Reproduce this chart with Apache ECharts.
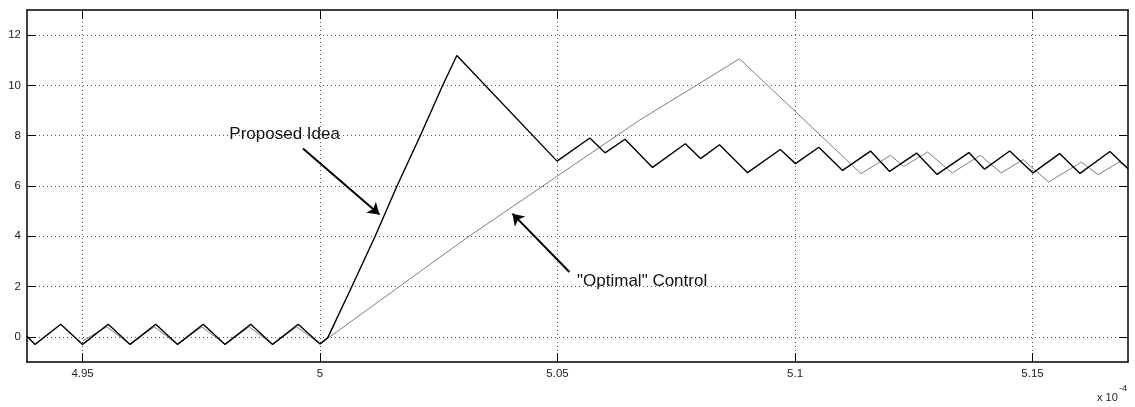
<!DOCTYPE html>
<html>
<head>
<meta charset="utf-8">
<script src="https://cdn.jsdelivr.net/npm/echarts@6/dist/echarts.min.js"></script>
<style>
  html, body { margin: 0; padding: 0; background: #fff; }
  #chart { width: 1135px; height: 407px; }
</style>
</head>
<body>
<div id="chart"></div>
<script>
// Time axis is in units of 1e-4 s
const xTicks = [4.95, 5, 5.05, 5.1, 5.15];
const yTicks = [0, 2, 4, 6, 8, 10, 12];

// "Proposed Idea" response (black)
const proposedX = [4.9383, 4.9400, 4.9454, 4.9500, 4.9554, 4.9600, 4.9654, 4.9700, 4.9754, 4.9800,
  4.9854, 4.9900, 4.9954, 5.0000, 5.0016, 5.0067, 5.0116, 5.0162, 5.0211, 5.0258,
  5.0288, 5.0499, 5.0568, 5.0600, 5.0642, 5.0700, 5.0769, 5.0801, 5.0841, 5.0900,
  5.0969, 5.1001, 5.1050, 5.1100, 5.1159, 5.1199, 5.1256, 5.1299, 5.1366, 5.1399,
  5.1452, 5.1501, 5.1557, 5.1600, 5.1663, 5.1701];
const proposedY = [0.02, -0.30, 0.50, -0.30, 0.50, -0.30, 0.50, -0.30, 0.50, -0.30,
  0.50, -0.30, 0.50, -0.28, -0.04, 2.0, 4.0, 6.0, 8.0, 10.0,
  11.19, 6.99, 7.91, 7.32, 7.86, 6.74, 7.68, 7.09, 7.64, 6.53,
  7.45, 6.89, 7.54, 6.62, 7.39, 6.58, 7.31, 6.46, 7.33, 6.67,
  7.39, 6.52, 7.29, 6.50, 7.37, 6.69];

// "Optimal" control response (grey)
const optimalX = [4.9501, 4.9551, 4.9600, 4.9651, 4.9700, 4.9751, 4.9800, 4.9851, 4.9900, 4.9951,
  5.0000, 5.0306, 5.0671, 5.0803, 5.0883, 5.1139, 5.1201, 5.1229, 5.1279, 5.1331,
  5.1390, 5.1434, 5.1480, 5.1534, 5.1603, 5.1638, 5.1682, 5.1701];
const optimalY = [-0.15, 0.40, -0.30, 0.40, -0.30, 0.40, -0.30, 0.40, -0.30, 0.40,
  -0.28, 3.90, 8.60, 10.13, 11.06, 6.49, 7.22, 6.78, 7.35, 6.52,
  7.22, 6.52, 7.05, 6.16, 6.95, 6.45, 6.95, 6.75];

// Callout texts and arrows, in data coordinates
const calloutTexts = ['Proposed Idea', '"Optimal" Control'];
const calloutAnchors = [[4.9809, 8.05], [5.0541, 2.19]];
const arrowStarts = [[4.9964, 7.49], [5.0525, 2.58]];
const arrowEnds = [[5.0125, 4.87], [5.0405, 4.90]];

const FONT = '"Liberation Sans", Arial, Helvetica, sans-serif';
const X_MIN = 4.9383, X_MAX = 5.1701, Y_MIN = -1, Y_MAX = 13;

const pairs = (xs, ys) => xs.map((x, i) => [x, ys[i]]);

const frameLine = { show: true, onZero: false, lineStyle: { color: '#000', width: 1.5 } };
const gridDots = { show: true, lineStyle: { color: '#555', width: 1, type: [1, 3] } };

function xAxisDef(pos, labels) {
  return {
    type: 'value', position: pos, min: X_MIN, max: X_MAX,
    axisLine: frameLine,
    axisTick: { show: true, inside: true, length: 9, customValues: xTicks, lineStyle: { color: '#000', width: 1 } },
    axisLabel: labels
      ? { show: true, customValues: xTicks, margin: 6, fontSize: 11.5, color: '#222', fontFamily: FONT }
      : { show: false },
    splitLine: labels ? gridDots : { show: false }
  };
}
function yAxisDef(pos, labels) {
  return {
    type: 'value', position: pos, min: Y_MIN, max: Y_MAX,
    axisLine: frameLine,
    axisTick: { show: true, inside: true, length: 9, customValues: yTicks, lineStyle: { color: '#000', width: 1 } },
    axisLabel: labels
      ? { show: true, customValues: yTicks, margin: 6, fontSize: 11.5, color: '#222', fontFamily: FONT }
      : { show: false },
    splitLine: labels ? gridDots : { show: false }
  };
}

const chart = echarts.init(document.getElementById('chart'), null, { renderer: 'canvas' });
chart.setOption({
  animation: false,
  backgroundColor: '#fff',
  grid: { left: 27, right: 7, top: 10, bottom: 45, containLabel: false },
  xAxis: [xAxisDef('bottom', true), xAxisDef('top', false)],
  yAxis: [yAxisDef('left', true), yAxisDef('right', false)],
  graphic: [
    { type: 'text', left: 1097, top: 392, style: { text: 'x 10', font: '11px ' + FONT, fill: '#222' } },
    { type: 'text', left: 1119, top: 384, style: { text: '-4', font: '9px ' + FONT, fill: '#222' } }
  ],
  series: [
    {
      name: 'Optimal', type: 'line', data: pairs(optimalX, optimalY),
      showSymbol: false, symbol: 'none', silent: true, z: 2,
      lineStyle: { color: '#808080', width: 1 }
    },
    {
      name: 'Proposed', type: 'line', data: pairs(proposedX, proposedY),
      showSymbol: false, symbol: 'none', silent: true, z: 3,
      lineStyle: { color: '#000', width: 1.4 },
      markLine: {
        silent: true, animation: false,
        symbol: ['none', 'arrow'], symbolSize: 11,
        itemStyle: { color: '#000' },
        lineStyle: { color: '#000', width: 2, type: 'solid' },
        label: { show: false },
        data: arrowStarts.map((s, i) => [{ coord: s }, { coord: arrowEnds[i] }])
      },
      markPoint: {
        silent: true, animation: false,
        symbol: 'circle', symbolSize: 0,
        itemStyle: { color: 'transparent' },
        label: { show: true, position: 'right', distance: 0, fontSize: 17, color: '#111', fontFamily: FONT },
        data: calloutAnchors.map((c, i) => ({ coord: c, value: calloutTexts[i], label: { formatter: calloutTexts[i] } }))
      }
    }
  ]
});
</script>
</body>
</html>
